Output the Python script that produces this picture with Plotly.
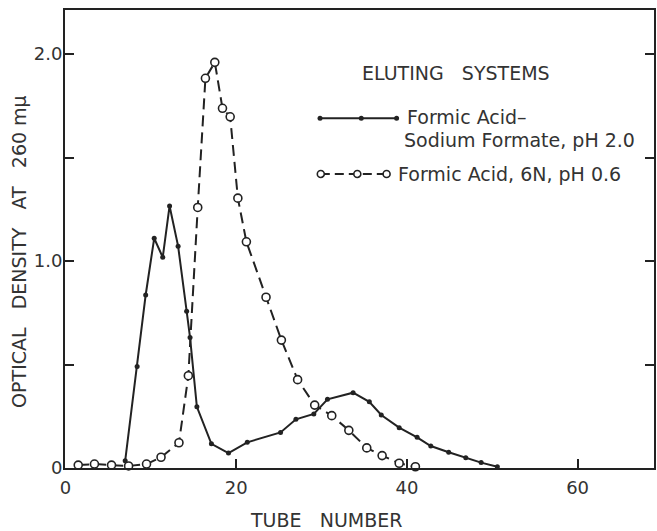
import plotly.graph_objects as go

# ---- data ----
tube_formate = [7.0, 8.4, 9.4, 10.4, 11.4, 12.2, 13.2, 14.2, 14.6, 15.4, 17.1, 19.1, 21.3,
                25.2, 27.0, 29.1, 30.7, 33.7, 35.6, 37.0, 39.1, 41.2, 42.8, 44.9, 46.9, 48.7, 50.6]
od_formate = [0.035, 0.49, 0.836, 1.11, 1.018, 1.266, 1.072, 0.758, 0.63, 0.296, 0.117, 0.072, 0.124,
              0.172, 0.235, 0.261, 0.332, 0.364, 0.32, 0.256, 0.195, 0.148, 0.106, 0.076, 0.05, 0.026, 0.006]

tube_formic = [1.5, 3.4, 5.4, 7.4, 9.5, 11.2, 13.3, 14.4, 15.5, 16.4, 17.5, 18.4, 19.3, 20.2, 21.2,
               23.5, 25.3, 27.2, 29.2, 31.2, 33.2, 35.3, 37.1, 39.1, 41.0]
od_formic = [0.014, 0.019, 0.014, 0.01, 0.019, 0.052, 0.122, 0.446, 1.259, 1.883, 1.96, 1.738, 1.697, 1.304, 1.093,
             0.825, 0.618, 0.427, 0.304, 0.253, 0.182, 0.097, 0.06, 0.023, 0.006]

x_ticks = [0, 20, 40, 60]
x_ticktext = ["0", "20", "40", "60"]
y_ticks = [0, 0.5, 1.0, 1.5, 2.0]
y_ticktext = ["0", "", "1.0", "", "2.0"]

SP = "\u00a0\u00a0\u00a0"
legend_title = "ELUTING" + SP + "SYSTEMS"
name_formate = ["Formic Acid\u2013", "Sodium Formate, pH 2.0"]
name_formic = "Formic Acid, 6N, pH 0.6"
x_title = "TUBE" + SP + "NUMBER"
y_title = "OPTICAL" + SP + "DENSITY" + SP + "AT" + SP + "260 m\u03bc"

INK = "#222222"
TXT = "#333333"
FONT = "DejaVu Sans"

fig = go.Figure()
fig.add_trace(go.Scatter(
    x=tube_formate, y=od_formate, mode="lines+markers",
    line=dict(color=INK, width=2),
    marker=dict(color=INK, size=5),
    cliponaxis=False, showlegend=False))
fig.add_trace(go.Scatter(
    x=tube_formic, y=od_formic, mode="lines+markers",
    line=dict(color=INK, width=2, dash="11px,6px"),
    marker=dict(symbol="circle", color="white", size=8, line=dict(color=INK, width=1.6)),
    cliponaxis=False, showlegend=False))

# ---- legend and axis titles drawn as annotations/shapes (paper coords) ----
annotations = [
    dict(x=0.664, y=0.863, xref="paper", yref="paper", text=legend_title, showarrow=False,
         font=dict(family=FONT, size=19, color=TXT), xanchor="center", yanchor="middle"),
    dict(x=0.578, y=0.767, xref="paper", yref="paper", text=name_formate[0], showarrow=False,
         font=dict(family=FONT, size=19, color=TXT), xanchor="left", yanchor="middle"),
    dict(x=0.5714, y=0.716, xref="paper", yref="paper", text=name_formate[1], showarrow=False,
         font=dict(family=FONT, size=19, color=TXT), xanchor="left", yanchor="middle"),
    dict(x=0.5623, y=0.642, xref="paper", yref="paper", text=name_formic, showarrow=False,
         font=dict(family=FONT, size=19, color=TXT), xanchor="left", yanchor="middle"),
    dict(x=0.443, y=-0.113, xref="paper", yref="paper", text=x_title, showarrow=False,
         font=dict(family=FONT, size=19, color=TXT), xanchor="center", yanchor="middle"),
    dict(x=-0.078, y=0.472, xref="paper", yref="paper", text=y_title, showarrow=False, textangle=-90,
         font=dict(family=FONT, size=19, color=TXT), xanchor="center", yanchor="middle"),
]
shapes = [
    dict(type="line", xref="paper", yref="paper", x0=0.433, x1=0.563, y0=0.7635, y1=0.7635,
         line=dict(color=INK, width=2)),
    dict(type="line", xref="paper", yref="paper", x0=0.4343, x1=0.546, y0=0.642, y1=0.642,
         line=dict(color=INK, width=2, dash="9px,5px")),
]
for px in [0.433, 0.503, 0.563]:
    shapes.append(dict(type="circle", xref="paper", yref="paper", xsizemode="pixel", ysizemode="pixel",
                       xanchor=px, yanchor=0.7635, x0=-2.5, x1=2.5, y0=-2.5, y1=2.5,
                       fillcolor=INK, line=dict(color=INK, width=0)))
for px in [0.4343, 0.4963, 0.546]:
    shapes.append(dict(type="circle", xref="paper", yref="paper", xsizemode="pixel", ysizemode="pixel",
                       xanchor=px, yanchor=0.642, x0=-3.5, x1=3.5, y0=-3.5, y1=3.5,
                       fillcolor="white", line=dict(color=INK, width=1.6)))

fig.update_layout(
    width=657, height=531,
    margin=dict(l=65, r=1, t=10, b=63),
    paper_bgcolor="white", plot_bgcolor="white",
    font=dict(family=FONT, color=TXT, size=16),
    annotations=annotations, shapes=shapes,
    xaxis=dict(range=[-0.05, 68.95], tickvals=x_ticks, ticktext=x_ticktext,
               showgrid=False, zeroline=False, showline=True, linecolor=INK, linewidth=2,
               mirror=True, ticks="inside", ticklen=9, tickwidth=1.5, tickcolor=INK,
               tickfont=dict(family=FONT, size=18, color=TXT), ticklabelstandoff=2),
    yaxis=dict(range=[0, 2.213], tickvals=y_ticks, ticktext=y_ticktext,
               showgrid=False, zeroline=False, showline=True, linecolor=INK, linewidth=2,
               mirror="ticks", ticks="inside", ticklen=9, tickwidth=1.5, tickcolor=INK,
               tickfont=dict(family=FONT, size=18, color=TXT), ticklabelstandoff=-3),
)

fig.write_html("out.html")
